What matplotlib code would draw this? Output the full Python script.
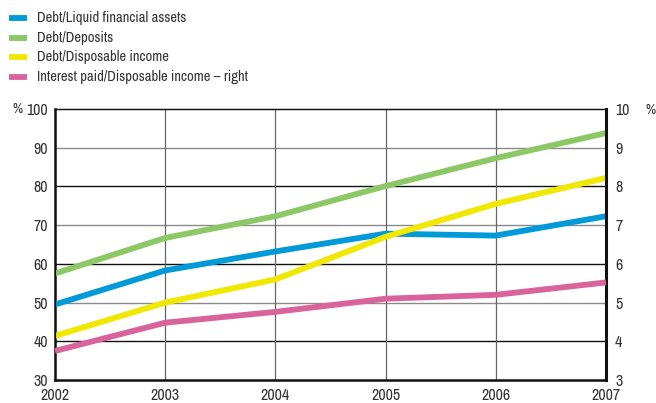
import matplotlib
matplotlib.use("Agg")
import matplotlib.pyplot as plt
from matplotlib.lines import Line2D

plt.rcParams['font.family'] = ['Archivo Narrow', 'DejaVu Sans']

years = [2002, 2003, 2004, 2005, 2006, 2007]
debt_liquid = [49.5, 58.3, 63.2, 67.8, 67.3, 72.3]
debt_deposits = [57.5, 66.7, 72.3, 80.1, 87.3, 93.8]
debt_income = [41.4, 50.0, 56.0, 67.0, 75.5, 82.2]
interest_income = [3.75, 4.48, 4.76, 5.1, 5.2, 5.52]

left_ticks = [30, 40, 50, 60, 70, 80, 90, 100]
right_ticks = [3, 4, 5, 6, 7, 8, 9, 10]
labels = ['Debt/Liquid financial assets', 'Debt/Deposits', 'Debt/Disposable income',
          'Interest paid/Disposable income \u2013 right']

c_blue = '#009ad8'
c_green = '#8cc866'
c_yellow = '#f0e800'
c_pink = '#d9649b'
txt = '#333333'

W, H = 656, 403
fig = plt.figure(figsize=(W/100, H/100), dpi=100)
ax = fig.add_axes([55/W, 1-380/H, (606-55)/W, (380-109)/H])
ax2 = ax.twinx()

ax.set_xlim(2002, 2007)
ax.set_ylim(30, 100)
ax2.set_ylim(3, 10)

for y in left_ticks[1:-1]:
    ax.axhline(y, color=('#8a8a8a' if y % 20 == 10 else '#111111'), lw=1.0, zorder=1)
for x in years[1:-1]:
    ax.axvline(x, color='#666666', lw=0.9, zorder=1)

lw = 4.2
ax.plot(years, debt_liquid, color=c_blue, lw=lw, zorder=3, solid_capstyle='butt')
ax.plot(years, debt_deposits, color=c_green, lw=lw, zorder=3, solid_capstyle='butt')
ax.plot(years, debt_income, color=c_yellow, lw=lw, zorder=3, solid_capstyle='butt')
ax2.plot(years, interest_income, color=c_pink, lw=lw, zorder=3, solid_capstyle='butt')
ax2.set_zorder(ax.get_zorder() + 1)
ax2.patch.set_visible(False)

ax.set_yticks(left_ticks)
ax.set_yticklabels([str(t) for t in left_ticks])
ax2.set_yticks(right_ticks)
ax2.set_yticklabels([str(t) for t in right_ticks])
ax.set_xticks(years)
ax.set_xticklabels([str(y) for y in years])

for a in (ax, ax2):
    a.tick_params(length=0, labelsize=11.5, colors=txt)
ax.tick_params(axis='y', pad=5)
ax2.tick_params(axis='y', pad=6.5)
ax.tick_params(axis='x', pad=5.5)

for s in ['left', 'bottom']:
    ax.spines[s].set_linewidth(1.8)
ax.spines['top'].set_linewidth(1.0)
ax2.spines['right'].set_linewidth(2.2)
for a in (ax, ax2):
    for s in a.spines.values():
        s.set_color('#111111')

fig.text(12/W, 1-109/H, '%', fontsize=10, ha='left', va='center', color=txt)
fig.text(645/W, 1-110/H, '%', fontsize=10, ha='left', va='center', color=txt)

for i, (c, lab) in enumerate(zip((c_blue, c_green, c_yellow, c_pink), labels)):
    yy = 1 - (18 + 19.7*i)/H
    fig.add_artist(Line2D([9/W, 27/W], [yy, yy], color=c, lw=4.2, solid_capstyle='butt',
                          transform=fig.transFigure))
    fig.text(37/W, yy, lab, fontsize=10.5, ha='left', va='center', color=txt)

fig.savefig('out.png', dpi=100)
